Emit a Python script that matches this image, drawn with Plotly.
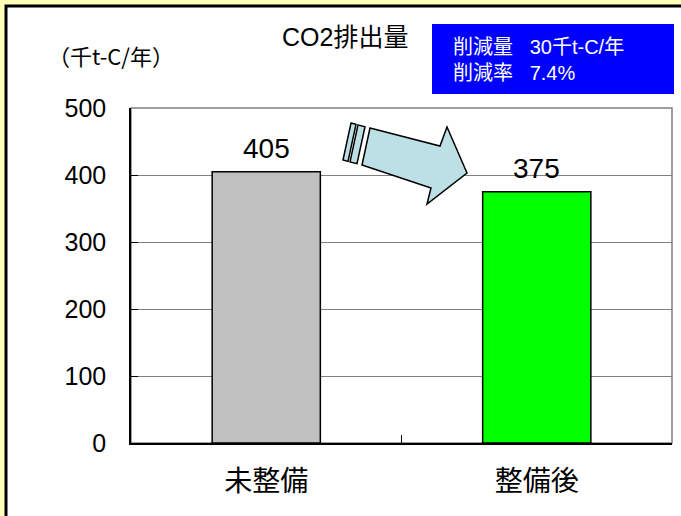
import plotly.graph_objects as go

categories = ["未整備", "整備後"]
values = [405, 375]
bar_colors = ["#C0C0C0", "#00FF00"]
y_ticks = [0, 100, 200, 300, 400, 500]
title_text = "CO2排出量"
unit_text = "（千t-C/年）"
info_lines = ["削減量\u00a0\u00a0 30千t-C/年", "削減率\u00a0\u00a0 7.4%"]

W, H = 681, 516
L, R, T, B = 131, 672, 108, 443

def px(x):
    return (x - L) / (R - L)

def py(y):
    return (B - y) / (B - T)

FONT = "Liberation Sans, Arial, Noto Sans CJK JP, sans-serif"
CJK = "Noto Sans CJK JP, sans-serif"

fig = go.Figure()
fig.add_trace(go.Bar(
    x=categories, y=values,
    marker=dict(color=bar_colors, line=dict(color="black", width=1.5)),
    width=0.4, hoverinfo="skip",
))

for c, v in zip(categories, values):
    fig.add_annotation(x=c, y=v, xref="x", yref="y", text=str(v), showarrow=False,
                       yanchor="bottom", yshift=6, font=dict(size=28, color="black", family=FONT))

shapes = []
shapes.append(dict(type="rect", xref="paper", yref="paper", layer="below",
                   x0=px(6), x1=px(720), y0=py(6), y1=py(560),
                   fillcolor="white", line=dict(color="black", width=3)))
shapes.append(dict(type="rect", xref="paper", yref="paper", layer="below",
                   x0=0, x1=1, y0=0, y1=1, fillcolor="white",
                   line=dict(color="#808080", width=1.5)))
shapes.append(dict(type="rect", xref="paper", yref="paper", layer="above",
                   x0=px(432), x1=px(674), y0=py(24), y1=py(94),
                   fillcolor="#0000FF", line=dict(width=0)))

arrow_pts = [(370, 128), (440, 146), (447, 127), (467, 173), (427, 204), (431, 188), (362, 165)]
path = "M " + " L ".join(f"{px(x):.5f},{py(y):.5f}" for x, y in arrow_pts) + " Z"
shapes.append(dict(type="path", xref="paper", yref="paper", layer="above", path=path,
                   fillcolor="#BCE0E6", line=dict(color="black", width=1.5)))
for s0, s1 in [(-19, -14), (-12, -5)]:
    pts = [(370 + s0, 128 + 0.26 * s0), (370 + s1, 128 + 0.26 * s1),
           (362 + s1, 165 + 0.26 * s1), (362 + s0, 165 + 0.26 * s0)]
    p = "M " + " L ".join(f"{px(x):.5f},{py(y):.5f}" for x, y in pts) + " Z"
    shapes.append(dict(type="path", xref="paper", yref="paper", layer="above", path=p,
                       fillcolor="#BCE0E6", line=dict(color="black", width=1.5)))

fig.update_layout(shapes=shapes)

fig.add_annotation(xref="paper", yref="paper", x=px(345), y=py(37), text=title_text,
                   showarrow=False, xanchor="center", yanchor="middle",
                   font=dict(size=25, color="black", family=FONT))
fig.add_annotation(xref="paper", yref="paper", x=px(111), y=py(55), text=unit_text,
                   showarrow=False, xanchor="center", yanchor="middle",
                   font=dict(size=22, color="black", family=CJK))
fig.add_annotation(xref="paper", yref="paper", x=px(451), y=py(60),
                   text="<br>".join(info_lines), showarrow=False, align="left",
                   xanchor="left", yanchor="middle",
                   font=dict(size=20, color="white", family=FONT))

fig.update_layout(
    width=W, height=H,
    margin=dict(l=L, r=W - R, t=T, b=H - B, pad=0),
    paper_bgcolor="#FFFFB8",
    plot_bgcolor="white",
    showlegend=False,
    bargap=0.6,
    font=dict(family=FONT, color="black"),
)
fig.update_xaxes(
    showline=True, linecolor="black", linewidth=1.5,
    ticks="inside", tickson="boundaries", ticklen=8, tickcolor="black",
    tickfont=dict(size=28, family=FONT), ticklabelstandoff=13,
    showgrid=False, fixedrange=True,
)
fig.update_yaxes(
    range=[0, 500], tickvals=y_ticks,
    showline=True, linecolor="black", linewidth=1.5,
    ticks="inside", ticklen=7, tickcolor="black",
    tickfont=dict(size=25, family=FONT), ticklabelstandoff=18,
    showgrid=True, gridcolor="#808080", gridwidth=1,
    zeroline=False, fixedrange=True,
)

fig.write_html("out.html", config={"displayModeBar": False})
